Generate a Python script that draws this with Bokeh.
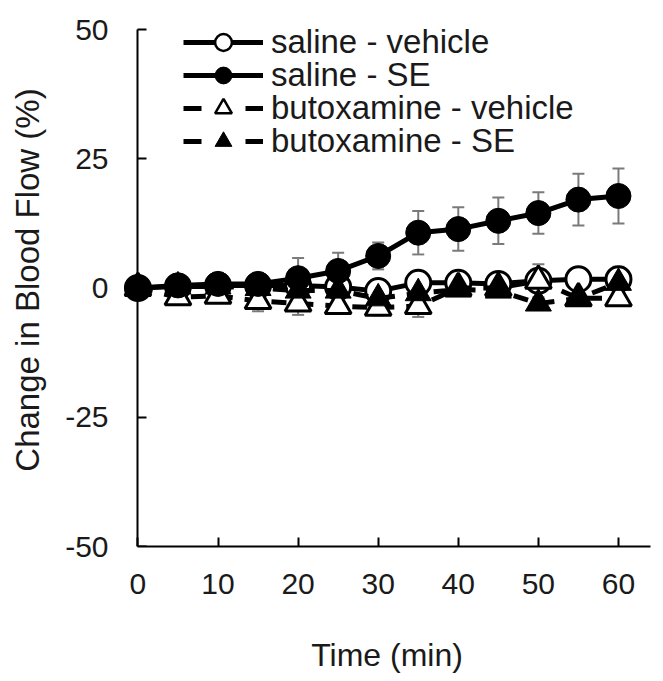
from bokeh.plotting import figure
from bokeh.models import (ColumnDataSource, Whisker, Legend, LegendItem, TeeHead,
                          FixedTicker, LinearAxis, Range1d)
from bokeh.embed import file_html
from bokeh.resources import INLINE

time = [0, 5, 10, 15, 20, 25, 30, 35, 40, 45, 50, 55, 60]

saline_vehicle = [0, 0.3, 0.5, 0.5, 0.5, 0.2, -0.6, 1.0, 1.0, 0.8, 1.4, 1.7, 1.7]
saline_vehicle_err = [0.3, 0.5, 0.5, 0.8, 1.0, 1.0, 1.2, 1.0, 1.0, 1.0, 1.5, 1.5, 2.4]
saline_se = [0, 0.5, 0.8, 0.8, 1.9, 3.3, 6.2, 10.7, 11.4, 13.0, 14.5, 17.1, 17.8]
saline_se_err = [0.3, 0.5, 0.5, 0.8, 3.9, 3.5, 2.6, 4.2, 4.2, 4.5, 4.0, 5.0, 5.3]
but_vehicle = [0, -1.8, -1.5, -2.5, -3.0, -3.5, -3.8, -3.5, 0, 0, 1.4, -2.0, -2.0]
but_vehicle_err = [0.3, 0.8, 0.8, 2.0, 2.2, 1.5, 1.5, 2.1, 1.0, 1.0, 3.2, 1.5, 1.5]
but_se = [0, 0.3, 0.3, 0, -0.5, -0.5, -2.0, -1.0, -0.3, -0.5, -3.0, -2.0, 1.0]
but_se_err = [0.3, 0.5, 0.5, 0.8, 1.0, 1.0, 1.0, 1.0, 1.0, 1.0, 1.0, 1.0, 1.5]

x_ticks = [0, 10, 20, 30, 40, 50, 60]
y_ticks = [-50, -25, 0, 25, 50]

FONT = "Liberation Sans"
TXT = "#1a1a1a"

p = figure(frame_width=527, frame_height=533, x_range=(-1.8, 64), y_range=(-50, 53.1),
           output_backend="svg", toolbar_location=None,
           min_border_left=123, min_border_right=13, min_border_top=13, min_border_bottom=135)
p.outline_line_color = None
p.grid.visible = False
p.background_fill_color = "white"
p.extra_x_ranges = {"legend_only": Range1d(1000, 1001)}

# x axis
xa = p.xaxis[0]
xa.ticker = FixedTicker(ticks=x_ticks)
xa.bounds = (0, 64)
xa.axis_label = "Time (min)"
xa.axis_label_text_font_size = "32px"
xa.major_label_text_font_size = "30px"
xa.major_label_standoff = 27
xa.axis_label_standoff = 40

# y axis drawn at x = 0 (line + inward ticks only)
ya = p.yaxis[0]
ya.ticker = FixedTicker(ticks=y_ticks)
ya.fixed_location = 0
ya.bounds = (-50, 50)
ya.major_label_text_alpha = 0
ya.major_label_text_font_size = "1px"

for ax in (xa, ya):
    ax.axis_line_width = 2
    ax.axis_line_color = "black"
    ax.major_tick_line_width = 2
    ax.major_tick_line_color = "black"
    ax.major_tick_in = 9
    ax.major_tick_out = 0
    ax.minor_tick_line_color = None
    ax.major_label_text_font = FONT
    ax.major_label_text_color = TXT
    ax.axis_label_text_font = FONT
    ax.axis_label_text_font_style = "normal"
    ax.axis_label_text_color = TXT

# y axis labels (no line, no ticks)
yl = LinearAxis(ticker=FixedTicker(ticks=y_ticks), axis_label="Change in Blood Flow (%)",
                bounds=(-50, 50),
                axis_line_color=None, major_tick_line_color=None, minor_tick_line_color=None,
                major_tick_in=0, major_tick_out=0,
                major_label_overrides={t: str(t) for t in y_ticks},
                major_label_text_font=FONT, major_label_text_font_size="30px",
                major_label_text_color=TXT, major_label_standoff=15,
                axis_label_text_font=FONT, axis_label_text_font_size="33px",
                axis_label_text_font_style="normal", axis_label_text_color=TXT,
                axis_label_standoff=16)
p.add_layout(yl, "left")

# (values, errors, marker, fill, dashed, label)
series = [
    (saline_vehicle, saline_vehicle_err, "circle", "white", False, "saline - vehicle"),
    (but_vehicle, but_vehicle_err, "triangle", "white", True, "butoxamine - vehicle"),
    (saline_se, saline_se_err, "circle", "black", False, "saline - SE"),
    (but_se, but_se_err, "triangle", "black", True, "butoxamine - SE"),
]
legend_order = [0, 2, 1, 3]

# error bars
for vals, errs, marker, fill, dashed, lab in series:
    src = ColumnDataSource(dict(x=time, lo=[v - e for v, e in zip(vals, errs)],
                                hi=[v + e for v, e in zip(vals, errs)]))
    w = Whisker(source=src, base="x", lower="lo", upper="hi", level="underlay",
                line_color="#7a7a7a", line_width=2,
                upper_head=TeeHead(size=12, line_color="#7a7a7a", line_width=2),
                lower_head=TeeHead(size=12, line_color="#7a7a7a", line_width=2))
    p.add_layout(w)

sources = []
for vals, errs, marker, fill, dashed, lab in series:
    src = ColumnDataSource(dict(x=time, y=vals))
    sources.append(src)
    p.line("x", "y", source=src, line_color="black", line_width=5,
           line_dash=("15 12" if dashed else "solid"))
    p.scatter("x", "y", source=src, marker=marker, size=25 if marker == "circle" else 26,
              fill_color=fill, line_color="black", line_width=3 if fill == "white" else 1)

# one single-row legend per entry, stacked 33 px apart
ROW_H = 42
for k, i in enumerate(legend_order):
    vals, errs, marker, fill, dashed, lab = series[i]
    lr = p.line("x", "y", source=sources[i], x_range_name="legend_only",
                line_color="black", line_width=5, line_dash=("18 44" if dashed else "solid"))
    sr = p.scatter("x", "y", source=sources[i], x_range_name="legend_only", marker=marker,
                   fill_color=fill, line_color="black",
                   line_width=2.5 if fill == "white" else 1)
    row_center = 42 + 33 * k          # page y of the row centre
    bottom_from_frame = 546 - (row_center + ROW_H / 2)
    legend = Legend(items=[LegendItem(label=lab, renderers=[lr, sr])],
                    location=(60, bottom_from_frame), glyph_width=80, glyph_height=ROW_H,
                    label_height=ROW_H, spacing=0, padding=0, margin=0, label_standoff=8,
                    label_text_font=FONT, label_text_font_size="33px", label_text_color=TXT,
                    border_line_color=None, background_fill_alpha=0)
    p.add_layout(legend)

open("out.html", "w").write(file_html(p, INLINE))
